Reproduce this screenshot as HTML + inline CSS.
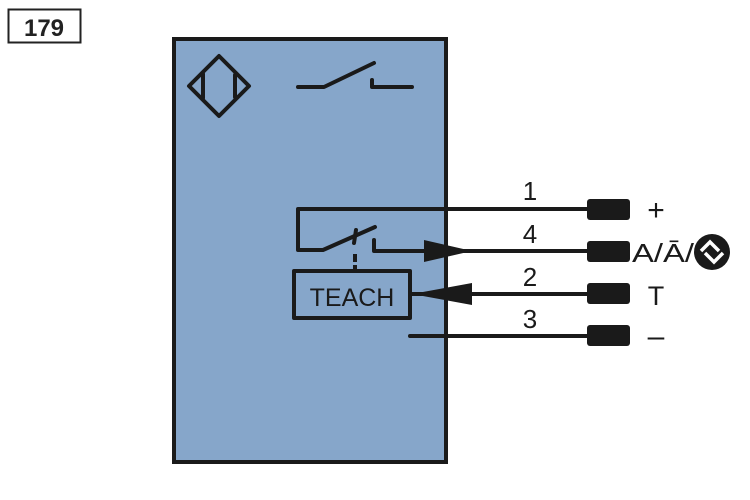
<!DOCTYPE html>
<html><head><style>body{margin:0;background:#fff}svg{display:block}</style></head><body>
<svg width="750" height="500" viewBox="0 0 750 500" xmlns="http://www.w3.org/2000/svg" font-family="Liberation Sans, sans-serif">
<rect x="8.5" y="9.5" width="72" height="33" fill="#fff" stroke="#222" stroke-width="2"/>
<text x="44" y="36" font-size="24" font-weight="bold" text-anchor="middle" fill="#222">179</text>
<rect x="174" y="39" width="272" height="423" fill="#86a6ca" stroke="#1a1a1a" stroke-width="4"/>
<g stroke="#1a1a1a" stroke-width="4" fill="none" stroke-linecap="round" stroke-linejoin="round">
<path d="M219 56 L249 86 L219 116 L189 86 Z"/>
<line x1="203" y1="74" x2="203" y2="98"/><line x1="235" y1="75" x2="235" y2="97"/>
<path d="M298 87 L324 87 L374 63"/><path d="M372 80 L372 87 L412 87"/>
<path d="M588 209 L298 209 L298 250 L323 250 L375 227"/>
<line x1="356" y1="230" x2="354" y2="243"/>
<path d="M374 240 L374 251 L588 251"/>
<line x1="355" y1="254" x2="355" y2="262" stroke-linecap="butt"/>
<line x1="355" y1="265" x2="355" y2="270" stroke-linecap="butt"/>
<rect x="294" y="271" width="116" height="47" stroke-linecap="butt"/>
<line x1="410" y1="294" x2="588" y2="294"/>
<line x1="410" y1="336" x2="588" y2="336"/>
</g>
<polygon points="424,240 472,251 424,262" fill="#1a1a1a"/>
<polygon points="472,283 412,294 472,305" fill="#1a1a1a"/>
<text x="352" y="306" font-size="25" text-anchor="middle" fill="#1a1a1a">TEACH</text>
<g fill="#1a1a1a">
<rect x="587" y="199" width="43" height="21" rx="3"/>
<rect x="587" y="241" width="43" height="21" rx="3"/>
<rect x="587" y="283" width="43" height="21" rx="3"/>
<rect x="587" y="325" width="43" height="21" rx="3"/>
</g>
<g font-size="26" fill="#1a1a1a" text-anchor="middle">
<text x="530" y="200">1</text><text x="530" y="243">4</text><text x="530" y="286">2</text><text x="530" y="328">3</text>
<text x="656" y="220" font-size="30">+</text><text x="656" y="305" font-size="27">T</text><text x="656" y="346" font-size="30">–</text>
</g>
<text x="632" y="262" font-size="26" fill="#1a1a1a" textLength="62" lengthAdjust="spacingAndGlyphs">A/Ā/</text>
<circle cx="712" cy="252" r="18" fill="#1a1a1a"/>
<path d="M701 251 L710 242 L719 251 M705 253 L714 262 L723 253" stroke="#fff" stroke-width="3.5" fill="none"/>
</svg>
</body></html>
